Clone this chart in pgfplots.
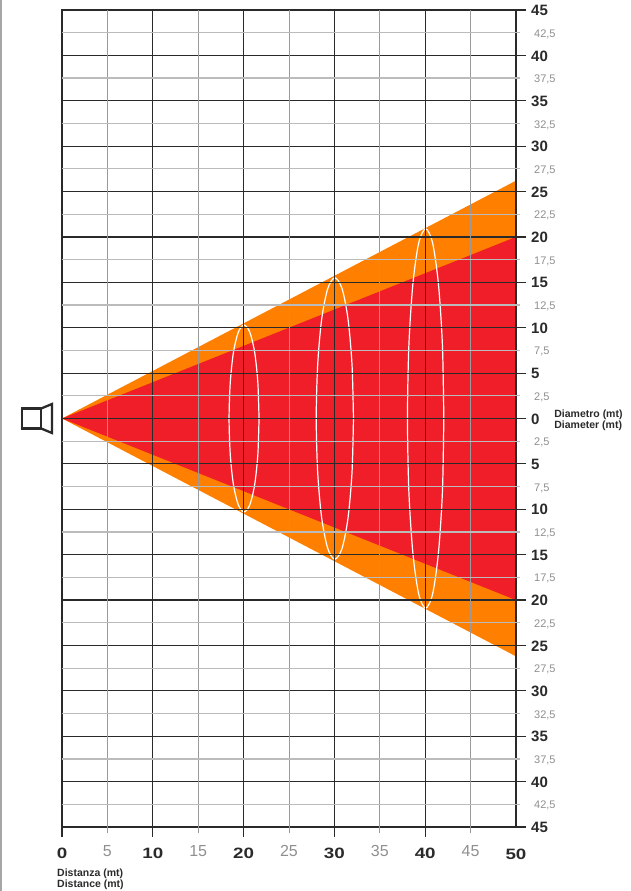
\documentclass[border=0pt]{standalone}
\usepackage{fontspec}
\setmainfont{Liberation Sans}
\usepackage{graphicx}
\usepackage{pgfplots}
\pgfplotsset{compat=1.18}
\definecolor{myorange}{HTML}{FF8000}
\definecolor{myred}{HTML}{EF1E28}
\definecolor{mydark}{HTML}{2A2A2A}
\definecolor{mygrayx}{HTML}{9A9A9A}
\definecolor{mygrayy}{HTML}{BBBBBB}
\definecolor{mylabel}{HTML}{8F8F8F}
\newcommand{\xb}[1]{\scalebox{1.25}[1]{\bfseries #1}}

\begin{document}
\begin{tikzpicture}
\path[use as bounding box] (-62pt,-64pt) rectangle (568pt,827pt);
\fill[gray!70] (-62pt,-64pt) rectangle (-60.3pt,827pt);
\begin{axis}[
  scale only axis, width=454pt, height=817pt,
  xmin=0, xmax=50, ymin=-45, ymax=45,
  clip=false,
  axis on top,
  axis line style={mydark, line width=1.2pt},
  tick align=outside,
  xtick pos=bottom, ytick pos=right,
  grid=major,
  major grid style={mydark, line width=1.2pt},
  major tick style={mydark, line width=1.2pt},
  xtick={0,10,20,30,40},
  xticklabels={\xb{0},\xb{10},\xb{20},\xb{30},\xb{40}},
  ytick={-45,-40,-35,-30,-25,-20,-15,-10,-5,0,5,10,15,20,25,30,35,40,45},
  yticklabels={45,40,35,30,25,20,15,10,5,0,5,10,15,20,25,30,35,40,45},
  major tick length=10pt,
  yticklabel pos=right,
  xticklabel style={font=\fontsize{15}{15}\selectfont, text=mydark, inner sep=0pt, anchor=north, yshift=-11pt},
  yticklabel style={font=\fontsize{15}{15}\selectfont\bfseries, text=mydark, inner sep=0pt, anchor=west, xshift=5pt, yshift=-0.5pt},
  extra x ticks={5,15,25,35,45},
  extra x tick labels={5,15,25,35,45},
  extra x tick style={
    major grid style={mygrayx, line width=1pt},
    major tick style={mygrayx, line width=1pt},
    major tick length=6pt,
    xticklabel style={font=\fontsize{16}{16}\selectfont, text=mylabel, inner sep=0pt, anchor=north, yshift=-1pt},
  },
  extra y ticks={-42.5,-37.5,-32.5,-27.5,-22.5,-17.5,-12.5,-7.5,-2.5,2.5,7.5,12.5,17.5,22.5,27.5,32.5,37.5,42.5},
  extra y tick labels={{42,5},{37,5},{32,5},{27,5},{22,5},{17,5},{12,5},{7,5},{2,5},{2,5},{7,5},{12,5},{17,5},{22,5},{27,5},{32,5},{37,5},{42,5}},
  extra y tick style={
    major grid style={mygrayy, line width=1.2pt},
    major tick style={mygrayy, line width=1.2pt},
    major tick length=4pt,
    yticklabel style={font=\fontsize{11}{11}\selectfont, text=mylabel, inner sep=0pt, anchor=west, xshift=9pt, yshift=-1pt},
  },
]
% coverage cones
\addplot[draw=none, fill=myorange] coordinates {(0,0)(50,26.2)(50,-26.2)} -- cycle;
\addplot[draw=none, fill=myred] coordinates {(0,0)(50,20)(50,-20)} -- cycle;
% white ellipses
\addplot[white, line width=1.2pt, smooth] coordinates {
  (21.70,0)(21.57,3.94)(21.22,7.28)(20.68,9.52)(20.05,10.3)(19.42,9.52)(18.88,7.28)(18.53,3.94)
  (18.40,0)(18.53,-3.94)(18.88,-7.28)(19.42,-9.52)(20.05,-10.3)(20.68,-9.52)(21.22,-7.28)(21.57,-3.94)(21.70,0)};
\addplot[white, line width=1.2pt, smooth] coordinates {
  (32.10,0)(31.94,5.93)(31.50,10.96)(30.84,14.32)(30.05,15.5)(29.27,14.32)(28.60,10.96)(28.16,5.93)
  (28.00,0)(28.16,-5.93)(28.60,-10.96)(29.27,-14.32)(30.05,-15.5)(30.84,-14.32)(31.50,-10.96)(31.94,-5.93)(32.10,0)};
\addplot[white, line width=1.2pt, smooth] coordinates {
  (42.05,0)(41.90,8.0)(41.46,14.78)(40.82,19.31)(40.05,20.9)(39.28,19.31)(38.64,14.78)(38.20,8.0)
  (38.05,0)(38.20,-8.0)(38.64,-14.78)(39.28,-19.31)(40.05,-20.9)(40.82,-19.31)(41.46,-14.78)(41.90,-8.0)(42.05,0)};
% speaker icon
\addplot[mydark, line width=2.3pt] coordinates {(-4.4,1.1)(-2.3,1.1)(-2.3,-1.1)(-4.4,-1.1)} -- cycle;
\addplot[mydark, line width=2.3pt] coordinates {(-2.3,1.1)(-1.1,1.6)(-1.1,-1.6)(-2.3,-1.1)};
% labels
\node[font=\fontsize{15}{15}\selectfont, text=mydark, inner sep=0pt, anchor=north] at (axis cs:50,-45) [yshift=-22pt] {\xb{50}};
\node[font=\fontsize{10.5}{10.5}\selectfont\bfseries, text=mydark, inner sep=0pt, anchor=west] at (axis cs:-0.55,-50.17) {Distanza (mt)};
\node[font=\fontsize{10.5}{10.5}\selectfont\bfseries, text=mydark, inner sep=0pt, anchor=west] at (axis cs:-0.55,-51.4) {Distance (mt)};
\node[font=\fontsize{10.5}{10.5}\selectfont\bfseries, text=mydark, inner sep=0pt, anchor=west] at (axis cs:54.2,0.38) {Diametro (mt)};
\node[font=\fontsize{10.5}{10.5}\selectfont\bfseries, text=mydark, inner sep=0pt, anchor=west] at (axis cs:54.2,-0.85) {Diameter (mt)};
\end{axis}
\end{tikzpicture}
\end{document}
